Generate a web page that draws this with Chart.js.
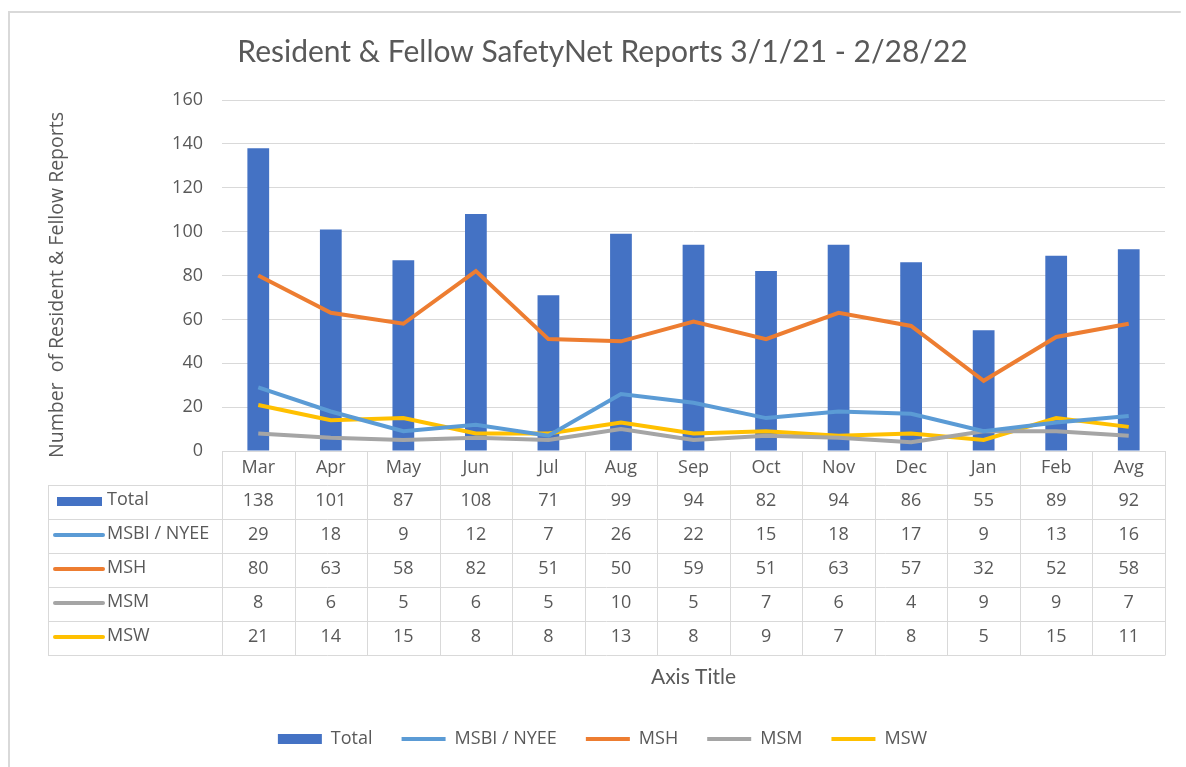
<!DOCTYPE html>
<html>
<head>
<meta charset="utf-8">
<script src="https://cdn.jsdelivr.net/npm/chart.js@4"></script>
<style>
  html, body { margin: 0; padding: 0; background: #fff; }
  #wrap { width: 1186px; height: 767px; }
</style>
</head>
<body>
<div id="wrap"><canvas id="reportsChart" width="1186" height="767"></canvas></div>
<script>
/* ==============================
   DATA
============================== */
const months = ['Mar', 'Apr', 'May', 'Jun', 'Jul', 'Aug', 'Sep', 'Oct', 'Nov', 'Dec', 'Jan', 'Feb', 'Avg'];
const totalReports = [138, 101, 87, 108, 71, 99, 94, 82, 94, 86, 55, 89, 92];
const msbiNyee = [29, 18, 9, 12, 7, 26, 22, 15, 18, 17, 9, 13, 16];
const msh = [80, 63, 58, 82, 51, 50, 59, 51, 63, 57, 32, 52, 58];
const msm = [8, 6, 5, 6, 5, 10, 5, 7, 6, 4, 9, 9, 7];
const msw = [21, 14, 15, 8, 8, 13, 8, 9, 7, 8, 5, 15, 11];
const yTicks = [0, 20, 40, 60, 80, 100, 120, 140, 160];

const TEXT = '#595959';
const FONT = '"Open Sans", "Noto Sans", sans-serif';
const TITLE_FONT = 'Lato, "Liberation Sans", sans-serif';

/* ==============================
   DATA TABLE UNDER THE PLOT
============================== */
const dataTablePlugin = {
    id: 'dataTable',
    afterDraw(chart) {
        const ctx = chart.ctx;
        const x = chart.scales.x;
        const area = chart.chartArea;
        const centers = months.map((m, i) => x.getPixelForValue(i));
        const step = centers[1] - centers[0];
        const keyLeft = 48;
        const rowH = 34;
        const top = area.bottom;
        const rows = chart.data.datasets;

        ctx.save();
        ctx.strokeStyle = '#d9d9d9';
        ctx.lineWidth = 1;

        // horizontal lines
        ctx.beginPath();
        ctx.moveTo(area.left, top + 0.5);
        ctx.lineTo(area.right, top + 0.5);
        for (let r = 1; r <= rows.length + 1; r++) {
            const y = Math.round(top + r * rowH) + 0.5;
            ctx.moveTo(keyLeft, y);
            ctx.lineTo(area.right, y);
        }
        // vertical lines
        const bottom = Math.round(top + (rows.length + 1) * rowH) + 0.5;
        for (let i = 0; i <= months.length; i++) {
            const vx = Math.round(centers[0] - step / 2 + i * step) + 0.5;
            ctx.moveTo(vx, top);
            ctx.lineTo(vx, bottom);
        }
        ctx.moveTo(keyLeft + 0.5, top + rowH);
        ctx.lineTo(keyLeft + 0.5, bottom);
        ctx.stroke();

        // header row
        ctx.fillStyle = TEXT;
        ctx.font = '18px ' + FONT;
        ctx.textAlign = 'center';
        ctx.textBaseline = 'middle';
        months.forEach((m, i) => ctx.fillText(m, centers[i], top + rowH / 2));

        // series rows
        rows.forEach((ds, r) => {
            const cy = top + (r + 1.5) * rowH;
            ds.data.forEach((v, i) => {
                ctx.fillStyle = TEXT;
                ctx.fillText(String(v), centers[i], cy - 1);
            });
            // legend key
            if (ds.type === 'bar') {
                ctx.fillStyle = ds.backgroundColor;
                ctx.fillRect(57, cy - 5, 45, 9);
            } else {
                ctx.strokeStyle = ds.borderColor;
                ctx.lineWidth = 4;
                ctx.lineCap = 'round';
                ctx.beginPath();
                ctx.moveTo(55, cy - 1);
                ctx.lineTo(103, cy - 1);
                ctx.stroke();
            }
            ctx.fillStyle = TEXT;
            ctx.textAlign = 'left';
            ctx.fillText(ds.label, 107, cy - 2);
            ctx.textAlign = 'center';
        });

        // category axis title
        ctx.fillStyle = TEXT;
        ctx.font = '21px ' + TITLE_FONT;
        ctx.fillText('Axis Title', (area.left + area.right) / 2, 677);

        // value axis title
        ctx.save();
        ctx.translate(57, 285);
        ctx.rotate(-Math.PI / 2);
        ctx.font = '19.5px ' + FONT;
        ctx.fillText('Number  of Resident & Fellow Reports', 0, 0);
        ctx.restore();

        // chart frame
        ctx.strokeStyle = '#d9d9d9';
        ctx.lineWidth = 2;
        ctx.beginPath();
        ctx.moveTo(9, 767);
        ctx.lineTo(9, 12);
        ctx.lineTo(1180, 12);
        ctx.stroke();
        ctx.restore();
    }
};

/* ==============================
   CHART
============================== */
function renderReportsChart() {
    const ctx = document.getElementById('reportsChart');
    if (!ctx) return;

    const line = (label, data, color) => ({
        type: 'line',
        label: label,
        data: data,
        borderColor: color,
        backgroundColor: color,
        borderWidth: 4,
        pointRadius: 0,
        pointStyle: 'line',
        tension: 0,
        order: 0
    });

    new Chart(ctx.getContext('2d'), {
        type: 'bar',
        data: {
            labels: months,
            datasets: [
                {
                    type: 'bar',
                    label: 'Total',
                    data: totalReports,
                    backgroundColor: '#4472C4',
                    pointStyle: 'rect',
                    barPercentage: 0.3,
                    categoryPercentage: 1,
                    order: 1
                },
                line('MSBI / NYEE', msbiNyee, '#5B9BD5'),
                line('MSH', msh, '#ED7D31'),
                line('MSM', msm, '#A5A5A5'),
                line('MSW', msw, '#FFC000')
            ]
        },
        plugins: [dataTablePlugin],
        options: {
            responsive: false,
            animation: false,
            layout: { padding: { left: 40, right: 21, top: 0, bottom: 9 } },
            plugins: {
                title: {
                    display: true,
                    text: 'Resident & Fellow SafetyNet Reports 3/1/21 - 2/28/22',
                    color: TEXT,
                    font: { family: TITLE_FONT, size: 30, weight: 'normal' },
                    padding: { top: 34, bottom: 30 }
                },
                legend: {
                    position: 'bottom',
                    labels: {
                        color: TEXT,
                        font: { family: FONT, size: 18 },
                        usePointStyle: true,
                        pointStyleWidth: 44,
                        boxHeight: 10,
                        padding: 29,
                        sort: (a, b) => a.datasetIndex - b.datasetIndex
                    }
                },
                tooltip: { enabled: false }
            },
            scales: {
                x: {
                    ticks: { display: false },
                    grid: { display: false },
                    border: { display: false },
                    afterFit: (axis) => {
                        const legendH = axis.chart.legend ? axis.chart.legend.height : 0;
                        axis.height = 767 - 451 - legendH - 9;
                    }
                },
                y: {
                    min: yTicks[0],
                    max: yTicks[yTicks.length - 1],
                    ticks: {
                        stepSize: yTicks[1] - yTicks[0],
                        color: TEXT,
                        font: { family: FONT, size: 18 },
                        padding: 19
                    },
                    grid: { color: '#d9d9d9', drawTicks: false },
                    border: { display: false },
                    afterFit: (axis) => { axis.width = 222 - 40; }
                }
            }
        }
    });
}

document.addEventListener('DOMContentLoaded', renderReportsChart);
</script>
</body>
</html>
